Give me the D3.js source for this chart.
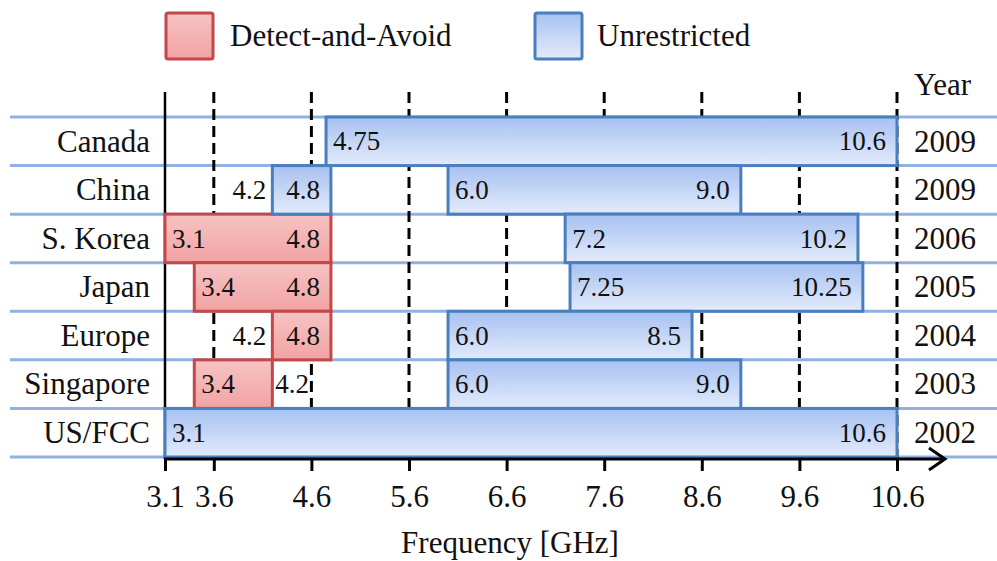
<!DOCTYPE html>
<html>
<head>
<meta charset="utf-8">
<script src="https://cdn.jsdelivr.net/npm/d3@7"></script>
<style>
  html, body { margin: 0; padding: 0; background: #fff; }
  svg text { font-family: "Liberation Serif", "Times New Roman", Times, "Tinos", "DejaVu Serif", serif; }
</style>
</head>
<body>
<svg id="chart" width="997" height="561"></svg>
<script>
// ---------- data ----------
const countries = ["Canada", "China", "S. Korea", "Japan", "Europe", "Singapore", "US/FCC"];
const years = ["2009", "2009", "2006", "2005", "2004", "2003", "2002"];
const tickValues = [3.1, 3.6, 4.6, 5.6, 6.6, 7.6, 8.6, 9.6, 10.6];
const legendLabels = ["Detect-and-Avoid", "Unrestricted"];
// Detect-and-Avoid bands [country, from, to]
const daaBands = [
  ["S. Korea", 3.1, 4.8],
  ["Japan", 3.4, 4.8],
  ["Europe", 4.2, 4.8],
  ["Singapore", 3.4, 4.2]
];
// Unrestricted bands [country, from, to]
const unrestrictedBands = [
  ["Canada", 4.75, 10.6],
  ["China", 4.2, 4.8],
  ["China", 6.0, 9.0],
  ["S. Korea", 7.2, 10.2],
  ["Japan", 7.25, 10.25],
  ["Europe", 6.0, 8.5],
  ["Singapore", 6.0, 9.0],
  ["US/FCC", 3.1, 10.6]
];
// labels written outside their (narrow) band: [country, value]
const outsideLabels = [["China", 4.2], ["Europe", 4.2], ["Singapore", 4.2]];

// ---------- layout ----------
const FONT = "'Liberation Serif', 'Times New Roman', Times, Tinos, 'DejaVu Serif', serif";
const svg = d3.select("#chart");
const x = d3.scaleLinear().domain([3.1, 10.6]).range([165, 897]);
const y = d3.scaleBand().domain(countries).range([117, 457]).padding(0);
const axisY = 459, vTop = 92;
const fmt = v => (Math.abs(v * 10 - Math.round(v * 10)) < 1e-9 ? v.toFixed(1) : v.toFixed(2));

const defs = svg.append("defs");
function grad(id, top, bottom) {
  const g = defs.append("linearGradient").attr("id", id)
    .attr("x1", 0).attr("y1", 0).attr("x2", 0).attr("y2", 1);
  g.append("stop").attr("offset", "0%").attr("stop-color", top);
  g.append("stop").attr("offset", "100%").attr("stop-color", bottom);
}
grad("gBlue", "#a7c1f1", "#e3ebfb");
grad("gRed", "#f7c3c3", "#f2a3a3");
const styles = {
  daa: { fill: "url(#gRed)", stroke: "#c4474a" },
  unr: { fill: "url(#gBlue)", stroke: "#4a7fbf" }
};

// horizontal row lines
const rowEdges = countries.map(c => y(c)).concat([y.range()[1]]);
svg.append("g").selectAll("line").data(rowEdges).join("line")
  .attr("x1", 10).attr("x2", 997)
  .attr("y1", d => d).attr("y2", d => d)
  .attr("stroke", "#8fb1e3").attr("stroke-width", 3);

// vertical dashed guides
svg.append("g").selectAll("line").data(tickValues.slice(1)).join("line")
  .attr("x1", d => x(d)).attr("x2", d => x(d))
  .attr("y1", vTop).attr("y2", axisY)
  .attr("stroke", "#000").attr("stroke-width", 3)
  .attr("stroke-dasharray", "11,6");

// solid left line
svg.append("line")
  .attr("x1", x(3.1)).attr("x2", x(3.1)).attr("y1", vTop).attr("y2", axisY)
  .attr("stroke", "#000").attr("stroke-width", 2.5);

// bands
const bands = daaBands.map(d => ({ c: d[0], from: d[1], to: d[2], t: "daa" }))
  .concat(unrestrictedBands.map(d => ({ c: d[0], from: d[1], to: d[2], t: "unr" })));

svg.append("g").selectAll("rect").data(bands).join("rect")
  .attr("x", d => x(d.from)).attr("y", d => y(d.c))
  .attr("width", d => x(d.to) - x(d.from)).attr("height", y.bandwidth())
  .attr("fill", d => styles[d.t].fill)
  .attr("stroke", d => styles[d.t].stroke).attr("stroke-width", 3);

// band labels
const isOutside = (c, v) => outsideLabels.some(o => o[0] === c && Math.abs(o[1] - v) < 1e-9);
const labels = [];
bands.forEach(b => {
  const sOut = isOutside(b.c, b.from), eOut = isOutside(b.c, b.to);
  labels.push({ c: b.c, v: b.from, anchor: sOut ? "end" : "start", dx: sOut ? -6 : 7 });
  labels.push({ c: b.c, v: b.to, anchor: eOut ? "start" : "end", dx: eOut ? 3 : -11 });
});
svg.append("g").selectAll("text").data(labels).join("text")
  .attr("x", d => x(d.v) + d.dx)
  .attr("y", d => y(d.c) + y.bandwidth() / 2)
  .attr("dy", "0.34em")
  .attr("text-anchor", d => d.anchor)
  .attr("font-family", FONT)
  .attr("font-size", 27).attr("fill", "#111")
  .text(d => fmt(d.v));

// country labels
svg.append("g").selectAll("text").data(countries).join("text")
  .attr("x", 150).attr("y", d => y(d) + y.bandwidth() / 2)
  .attr("dy", "0.33em").attr("text-anchor", "end")
  .attr("font-family", FONT)
  .attr("font-size", 31).attr("fill", "#111")
  .text(d => d);

// year labels
svg.append("g").selectAll("text").data(years).join("text")
  .attr("x", 914).attr("y", (d, i) => y(countries[i]) + y.bandwidth() / 2)
  .attr("dy", "0.33em").attr("font-size", 31).attr("fill", "#111")
  .attr("font-family", FONT)
  .text(d => d);
svg.append("text").attr("x", 914).attr("y", 95)
  .attr("font-family", FONT)
  .attr("font-size", 31).attr("fill", "#111").text("Year");

// x axis
const axis = d3.axisBottom(x).tickValues(tickValues).tickSize(12).tickPadding(14)
  .tickFormat(d => d.toFixed(1));
const ag = svg.append("g").attr("transform", `translate(0,${axisY})`).call(axis)
  .attr("font-family", FONT);
ag.select(".domain").remove();
ag.selectAll(".tick line").attr("stroke", "#000").attr("stroke-width", 3);
ag.selectAll(".tick text").attr("font-size", 31).attr("fill", "#111")
  .attr("font-family", FONT);
ag.append("line").attr("x1", x(3.1) - 1).attr("x2", 944).attr("y1", 0).attr("y2", 0)
  .attr("stroke", "#000").attr("stroke-width", 3);
ag.append("path").attr("d", "M929,-11 L945,0 L929,11")
  .attr("fill", "none").attr("stroke", "#000").attr("stroke-width", 3);

svg.append("text").attr("x", (x(3.1) + x(10.6)) / 2 - 21).attr("y", 553)
  .attr("text-anchor", "middle").attr("font-size", 31).attr("fill", "#111")
  .attr("font-family", FONT)
  .text("Frequency [GHz]");

// legend
const legend = svg.append("g");
const legItems = [
  { label: legendLabels[0], st: styles.daa, x: 166, tx: 230 },
  { label: legendLabels[1], st: styles.unr, x: 535, tx: 597 }
];
legItems.forEach(l => {
  legend.append("rect").attr("x", l.x).attr("y", 13).attr("width", 47).attr("height", 46)
    .attr("fill", l.st.fill).attr("stroke", l.st.stroke).attr("stroke-width", 3).attr("rx", 2);
  legend.append("text").attr("x", l.tx).attr("y", 46).attr("font-size", 31).attr("fill", "#111")
    .attr("font-family", FONT)
    .text(l.label);
});
</script>
</body>
</html>
